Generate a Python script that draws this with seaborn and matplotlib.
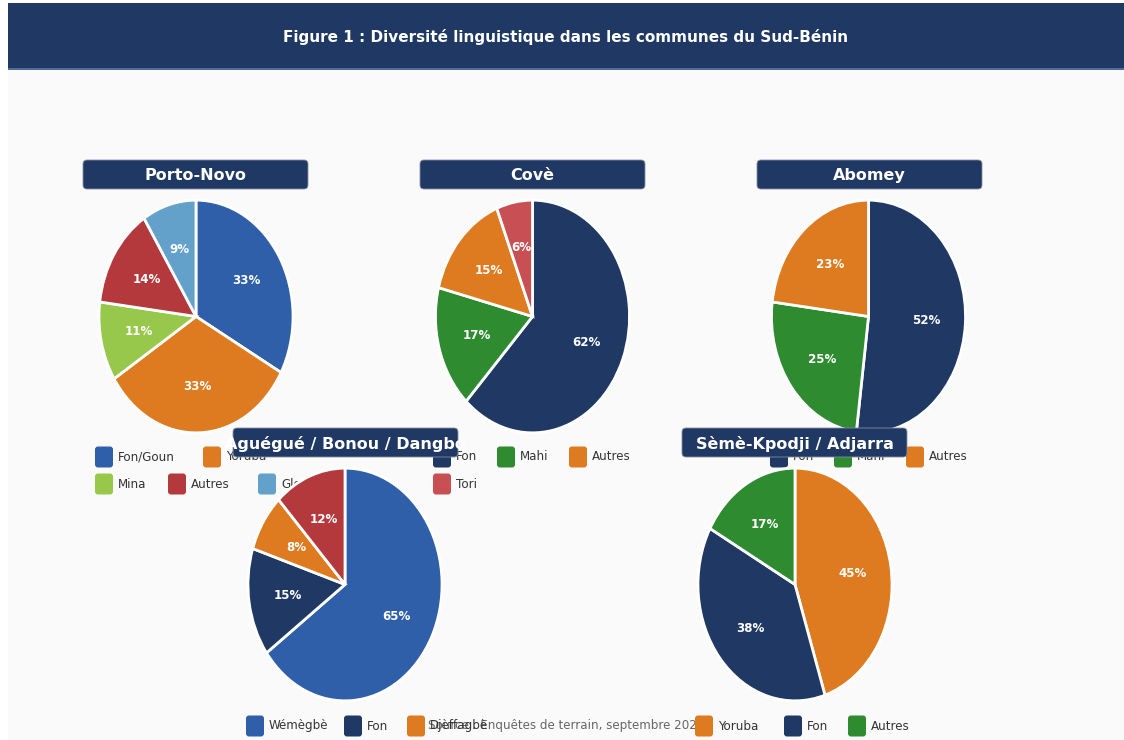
import matplotlib.pyplot as plt
import seaborn as sns
from matplotlib.patches import FancyBboxPatch, Rectangle

# --- Data ---
page_title = "Figure 1 : Diversité linguistique dans les communes du Sud-Bénin"
source_text = "Source : Enquêtes de terrain, septembre 2024"
communes = ["Porto-Novo", "Covè", "Abomey", "Aguégué / Bonou / Dangbo", "Sèmè-Kpodji / Adjarra"]

porto_labels = ["Fon/Goun", "Yoruba", "Mina", "Autres", "Glo"]
porto_values = [33, 33, 11, 14, 9]
cove_labels = ["Fon", "Mahi", "Autres", "Tori"]
cove_values = [62, 17, 15, 6]
abomey_labels = ["Fon", "Mahi", "Autres"]
abomey_values = [52, 25, 23]
ague_labels = ["Wémègbè", "Fon", "Djèffagbè", "Autres"]
ague_values = [65, 15, 8, 12]
seme_labels = ["Yoruba", "Fon", "Autres"]
seme_values = [45, 38, 17]

# --- Colours ---
NAVY = "#1f3864"
BLUE = "#2e5fa8"
ORANGE = "#de7a1f"
LGREEN = "#97c84c"
RED = "#b3393d"
LBLUE = "#63a0ca"
GREEN = "#2e8b30"
TORI = "#c85054"

porto_colors = [BLUE, ORANGE, LGREEN, RED, LBLUE]
cove_colors = [NAVY, GREEN, ORANGE, TORI]
abomey_colors = [NAVY, GREEN, ORANGE]
ague_colors = [BLUE, NAVY, ORANGE, RED]
seme_colors = [ORANGE, NAVY, GREEN]

charts = [
    (porto_labels, porto_values, porto_colors),
    (cove_labels, cove_values, cove_colors),
    (abomey_labels, abomey_values, abomey_colors),
    (ague_labels, ague_values, ague_colors),
    (seme_labels, seme_values, seme_colors),
]

# --- Layout (pixels) ---
W, H = 1124, 740
pie_centers = [(196, 316.5), (532.5, 316.5), (868.5, 316.5), (345, 584.5), (795, 584.5)]
RX, RY = 98, 117.5
title_boxes = [(83, 160), (420, 160), (757, 160), (233, 428), (682, 428)]
TW, TH = 225, 29
# the last Aguégué legend item wraps below the visible page, so it is not drawn
legend_pos = [
    [(95, 457), (203, 457), (95, 484), (168, 484), (258, 484)],
    [(433, 457), (497, 457), (569, 457), (433, 484)],
    [(770, 457), (834, 457), (906, 457)],
    [(246, 726), (344, 726), (407, 726)],
    [(695, 726), (784, 726), (848, 726)],
]

sns.set_theme(style="white")
plt.rcParams['font.family'] = ['DejaVu Sans']

fig = plt.figure(figsize=(W / 100, H / 100), dpi=100, facecolor="white")
fig.add_artist(Rectangle((8 / W, 0), 1 - 8 / W, 1 - 3 / H, transform=fig.transFigure,
                         facecolor="#fafafa", edgecolor="none", zorder=-1))

# overlay in pixel coordinates
ov = fig.add_axes([0, 0, 1, 1], zorder=1)
ov.set_xlim(0, W)
ov.set_ylim(H, 0)
ov.axis("off")
ov.patch.set_alpha(0)

# banner
ov.add_patch(Rectangle((8, 3), W - 8, 66, facecolor=NAVY, edgecolor="none", zorder=1))
ov.add_patch(Rectangle((8, 68), W - 8, 2, facecolor="#4f6c9c", edgecolor="none", zorder=1))
ov.text(566, 37, page_title, color="white", fontsize=11, fontweight="bold",
        ha="center", va="center", zorder=2)


def pct_fmt(p):
    return f"{p:.0f}%"


for i, (labels, values, colors) in enumerate(charts):
    cx, cy = pie_centers[i]
    row2 = i >= 3
    pax = fig.add_axes([(cx - RX) / W, 1 - (cy + RY) / H, 2 * RX / W, 2 * RY / H],
                       zorder=2 if row2 else 0.5)
    wedges, _, autotexts = pax.pie(values, colors=colors, startangle=90, counterclock=False,
                                   autopct=pct_fmt, pctdistance=0.6,
                                   wedgeprops=dict(edgecolor="white", linewidth=2),
                                   textprops=dict(color="white", fontweight="bold", fontsize=8.6))
    pax.set_aspect("auto")
    pax.set_xlim(-1.01, 1.01)
    pax.set_ylim(-1.01, 1.01)
    pax.axis("off")
    pax.patch.set_alpha(0)

    # title box
    tx, ty = title_boxes[i]
    ov.add_patch(FancyBboxPatch((tx, ty), TW, TH, boxstyle="round,pad=0,rounding_size=4",
                                facecolor=NAVY, edgecolor="#8890a0", linewidth=0.6,
                                zorder=5 if row2 else 3))
    ov.text(tx + TW / 2, ty + TH / 2 + 1, communes[i], color="white", fontsize=11.5,
            fontweight="bold", ha="center", va="center", zorder=5.5 if row2 else 3.5)

    # legend
    for (lx, ly), lab, col in zip(legend_pos[i], labels, colors):
        ov.add_patch(FancyBboxPatch((lx, ly - 10.5), 18, 21, boxstyle="round,pad=0,rounding_size=3",
                                    facecolor=col, edgecolor="none", zorder=4))
        ov.text(lx + 23, ly, lab, color="#333333", fontsize=8.6, ha="left", va="center", zorder=4)

ov.text(428, 726, source_text, color="#666666", fontsize=8.6, ha="left", va="center", zorder=3.8)

fig.savefig("out.png", dpi=100, facecolor=fig.get_facecolor())
